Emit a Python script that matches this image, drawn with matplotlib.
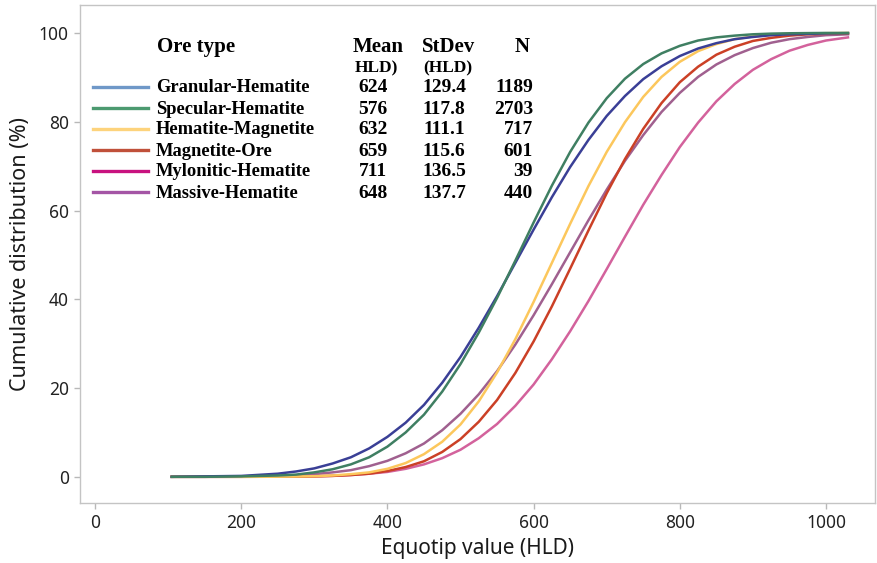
import matplotlib
matplotlib.use("Agg")
import matplotlib.pyplot as plt
from matplotlib.lines import Line2D

# ==========================
# Data
# ==========================

hld = [105, 150, 200, 250, 275, 300, 325, 350, 375, 400, 425, 450, 475,
       500, 525, 550, 575, 600, 625, 650, 675, 700, 725, 750, 775, 800,
       825, 850, 875, 900, 925, 950, 975, 1000, 1030]

specular = [0.0, 0.0, 0.1, 0.3, 0.5, 1.0, 1.7, 2.8, 4.4, 6.8, 10.0, 14.0,
            19.2, 25.4, 32.5, 40.3, 48.7, 57.3, 65.6, 73.2, 79.8, 85.3,
            89.7, 93.0, 95.4, 97.1, 98.3, 99.0, 99.4, 99.7, 99.85, 99.93,
            99.97, 100.0, 100.0]

granular = [0.0, 0.1, 0.2, 0.7, 1.2, 1.9, 3.0, 4.4, 6.4, 9.0, 12.2, 16.2,
            21.2, 27.0, 33.6, 40.7, 48.2, 55.7, 63.0, 69.8, 75.9, 81.3,
            85.8, 89.6, 92.5, 94.8, 96.5, 97.7, 98.6, 99.1, 99.5, 99.7,
            99.8, 99.9, 99.96]

hem_mag = [0.0, 0.0, 0.0, 0.03, 0.07, 0.14, 0.3, 0.6, 1.0, 1.8, 3.1, 5.1,
           7.9, 11.8, 17.0, 23.5, 31.0, 39.4, 48.2, 57.0, 65.5, 73.2, 79.9,
           85.6, 90.1, 93.5, 95.9, 97.5, 98.6, 99.2, 99.6, 99.8, 99.9,
           99.95, 100.0]

magnetite = [0.0, 0.0, 0.0, 0.02, 0.05, 0.09, 0.2, 0.4, 0.7, 1.3, 2.2,
             3.5, 5.6, 8.5, 12.4, 17.3, 23.4, 30.5, 38.4, 46.9, 55.5, 63.9,
             71.6, 78.4, 84.2, 88.9, 92.4, 95.1, 96.9, 98.2, 98.9, 99.4,
             99.7, 99.8, 99.9]

mylonitic = [0.0, 0.0, 0.01, 0.04, 0.07, 0.13, 0.23, 0.4, 0.7, 1.1, 1.8,
             2.8, 4.2, 6.1, 8.7, 11.9, 16.0, 20.8, 26.5, 32.8, 39.6, 46.8,
             54.1, 61.3, 68.0, 74.3, 79.8, 84.6, 88.5, 91.7, 94.1, 96.0,
             97.3, 98.3, 99.0]

massive = [0.0, 0.01, 0.06, 0.2, 0.3, 0.6, 1.0, 1.5, 2.4, 3.6, 5.3, 7.5,
           10.5, 14.2, 18.6, 23.8, 29.8, 36.4, 43.4, 50.6, 57.8, 64.7,
           71.2, 77.0, 82.2, 86.5, 90.1, 92.9, 95.0, 96.6, 97.8, 98.6,
           99.1, 99.5, 99.7]

ore_types = ["Granular-Hematite", "Specular-Hematite", "Hematite-Magnetite",
             "Magnetite-Ore", "Mylonitic-Hematite", "Massive-Hematite"]
means = ["624", "576", "632", "659", "711", "648"]
stdevs = ["129.4", "117.8", "111.1", "115.6", "136.5", "137.7"]
counts = ["1189", "2703", "717", "601", "39", "440"]

curves = [granular, specular, hem_mag, magnetite, mylonitic, massive]
curve_colors = ["#3a3f96", "#3f7f62", "#fcc75c", "#cb4026", "#d3629c", "#a0608f"]
legend_colors = ["#6f98c8", "#4c9a70", "#fdd37c", "#c0503a", "#c8127f", "#a455a5"]

# ==========================
# Figure
# ==========================

W, H = 877, 563
fig = plt.figure(figsize=(W / 100, H / 100), dpi=100)
ax = fig.add_axes([80 / W, 1 - 503 / H, 795 / W, 498 / H])

# draw order: pink and mauve underneath
for i in [4, 5, 3, 2, 0, 1]:
    ax.plot(hld, curves[i], color=curve_colors[i], lw=1.8, zorder=3)

ax.set_xlim(-20.5, 1067)
ax.set_ylim(-5.9, 106.3)
ax.set_xticks([0, 200, 400, 600, 800, 1000])
ax.set_yticks([0, 20, 40, 60, 80, 100])

for s in ax.spines.values():
    s.set_color("#c4c4c4")
    s.set_linewidth(1.0)

ax.tick_params(direction="out", length=4, width=1, color="#b8b8b8",
               labelsize=12.5, labelcolor="#222222", pad=4)
for lab in ax.get_xticklabels() + ax.get_yticklabels():
    lab.set_family("Noto Sans")

ax.set_xlabel("Equotip value (HLD)", family="Noto Sans", fontsize=15,
              color="#1a1a1a", labelpad=4)
ax.set_ylabel("Cumulative distribution (%)", family="Noto Sans",
              fontsize=15.5, color="#1a1a1a", labelpad=6)

# ==========================
# Legend table
# ==========================

def fx(px):
    return px / W

def fy(py):
    return 1 - py / H

serif = "Liberation Serif"

fig.text(fx(157), fy(47), "Ore type", family=serif, weight="bold",
         fontsize=15, va="center", ha="left")
fig.text(fx(378), fy(47), "Mean", family=serif, weight="bold",
         fontsize=15, va="center", ha="center")
fig.text(fx(449), fy(47), "StDev", family=serif, weight="bold",
         fontsize=15, va="center", ha="center")
fig.text(fx(522), fy(47), "N", family=serif, weight="bold",
         fontsize=15, va="center", ha="center")
fig.text(fx(376), fy(68), "HLD)", family=serif, weight="bold",
         fontsize=12.5, va="center", ha="center")
fig.text(fx(448), fy(68), "(HLD)", family=serif, weight="bold",
         fontsize=12.5, va="center", ha="center")

row_y = [88, 109, 130, 151, 172, 193]

for i in range(len(ore_types)):
    y = row_y[i]
    fig.add_artist(Line2D([fx(93), fx(148)], [fy(y - 1), fy(y - 1)],
                          color=legend_colors[i], lw=2.4,
                          transform=fig.transFigure))
    fig.text(fx(156), fy(y), ore_types[i], family=serif, weight="bold",
             fontsize=13.3, va="center", ha="left")
    fig.text(fx(373), fy(y), means[i], family=serif, weight="bold",
             fontsize=14, va="center", ha="center")
    fig.text(fx(444), fy(y), stdevs[i], family=serif, weight="bold",
             fontsize=14, va="center", ha="center")
    fig.text(fx(533), fy(y), counts[i], family=serif, weight="bold",
             fontsize=14, va="center", ha="right")

fig.savefig("out.png", dpi=100)
